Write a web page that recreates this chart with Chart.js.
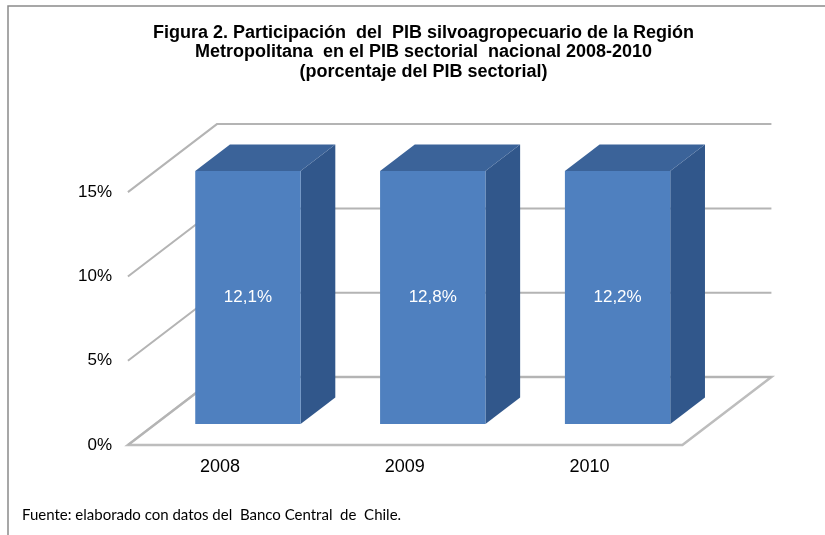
<!DOCTYPE html>
<html>
<head>
<meta charset="utf-8">
<script src="https://cdn.jsdelivr.net/npm/chart.js@4.4.0/dist/chart.umd.min.js"></script>
<style>
  html, body { margin: 0; padding: 0; background: #fff; }
</style>
</head>
<body>
<canvas id="dataChart" width="825" height="535"></canvas>
<script>
const years = ['2008', '2009', '2010'];
// height of the bars as they are drawn in the figure (all reach the 15% line)
const barHeights = [15, 15, 15];
// values printed on the bars
const shareLabels = ['12,1%', '12,8%', '12,2%'];
const yTicks = [0, 5, 10, 15];

const titleLines = [
  'Figura 2. Participación  del  PIB silvoagropecuario de la Región',
  'Metropolitana  en el PIB sectorial  nacional 2008-2010',
  '(porcentaje del PIB sectorial)'
];
const sourceNote = 'Fuente: elaborado con datos del  Banco Central  de  Chile.';

// fake 3d: floor goes this far from front edge to back wall
const depth = { dx: 89, dy: -68 };
const frontShift = 0.31;   // bars stand this far behind the front edge
const barDepth = 0.39;     // depth of each bar

const arial = "'Liberation Sans', Arial, sans-serif";

const box3d = {
  id: 'box3d',
  beforeDraw(chart) {
    // frame of the figure
    const ctx = chart.ctx;
    ctx.save();
    ctx.strokeStyle = '#8a8a8a';
    ctx.lineWidth = 1.5;
    ctx.beginPath();
    ctx.moveTo(8, 535);
    ctx.lineTo(8, 6);
    ctx.lineTo(825, 6);
    ctx.stroke();
    ctx.restore();
  },
  beforeDatasetsDraw(chart) {
    const { ctx, chartArea: a, scales: { y } } = chart;
    const fx = -depth.dx * frontShift, fy = -depth.dy * frontShift;
    const bx = depth.dx * (1 - frontShift), by = depth.dy * (1 - frontShift);
    ctx.save();

    // floor
    const y0 = y.getPixelForValue(0);
    ctx.beginPath();
    ctx.moveTo(a.left + fx, y0 + fy);
    ctx.lineTo(a.right + fx, y0 + fy);
    ctx.lineTo(a.right + bx, y0 + by);
    ctx.lineTo(a.left + bx, y0 + by);
    ctx.closePath();
    ctx.fillStyle = '#ffffff';
    ctx.fill();
    ctx.strokeStyle = '#bdbdbd';
    ctx.lineWidth = 2.5;
    ctx.stroke();

    // side wall + back wall gridlines
    ctx.strokeStyle = '#b4b4b4';
    ctx.lineWidth = 2;
    yTicks.forEach(v => {
      const py = y.getPixelForValue(v);
      ctx.beginPath();
      ctx.moveTo(a.left + fx, py + fy);
      ctx.lineTo(a.left + bx, py + by);
      ctx.lineTo(a.right + bx, py + by);
      ctx.stroke();
    });

    // sides and tops of the bars
    const ox = depth.dx * barDepth, oy = depth.dy * barDepth;
    chart.getDatasetMeta(0).data.forEach(bar => {
      const { x, y: top, base, width } = bar.getProps(['x', 'y', 'base', 'width'], true);
      const l = x - width / 2, r = x + width / 2;
      ctx.fillStyle = '#31578b';
      ctx.beginPath();
      ctx.moveTo(r, top);
      ctx.lineTo(r, base);
      ctx.lineTo(r + ox, base + oy);
      ctx.lineTo(r + ox, top + oy);
      ctx.closePath();
      ctx.fill();
      ctx.fillStyle = '#3b6399';
      ctx.beginPath();
      ctx.moveTo(l, top);
      ctx.lineTo(r, top);
      ctx.lineTo(r + ox, top + oy);
      ctx.lineTo(l + ox, top + oy);
      ctx.closePath();
      ctx.fill();
    });
    ctx.restore();
  },
  afterDatasetsDraw(chart) {
    const ctx = chart.ctx;
    ctx.save();
    ctx.fillStyle = '#ffffff';
    ctx.font = '17px ' + arial;
    ctx.textAlign = 'center';
    ctx.textBaseline = 'middle';
    chart.getDatasetMeta(0).data.forEach((bar, i) => {
      const { x, y: top, base } = bar.getProps(['x', 'y', 'base'], true);
      ctx.fillText(shareLabels[i], x, (top + base) / 2);
    });
    ctx.restore();
  }
};

new Chart(document.getElementById('dataChart'), {
  type: 'bar',
  data: {
    labels: years,
    datasets: [{
      label: 'Participación',
      data: barHeights,
      backgroundColor: '#4f80bf',
      borderWidth: 0,
      categoryPercentage: 1,
      barPercentage: 0.57
    }]
  },
  options: {
    responsive: false,
    animation: false,
    layout: { padding: { left: 22, right: 0, top: 0, bottom: 0 } },
    plugins: {
      legend: { display: false },
      tooltip: { enabled: false },
      title: {
        display: true,
        text: titleLines,
        color: '#000',
        font: { family: arial, size: 18, weight: 'bold', lineHeight: 1.08 },
        padding: { top: 23.3, bottom: 89.4 }
      },
      subtitle: {
        display: true,
        position: 'bottom',
        align: 'start',
        text: sourceNote,
        color: '#000',
        font: { family: "Lato, 'Open Sans', sans-serif", size: 15, lineHeight: 1.2 },
        padding: { top: 0, bottom: 11 }
      }
    },
    scales: {
      x: {
        grid: { display: false },
        border: { display: false },
        ticks: { color: '#000', font: { family: arial, size: 18 }, labelOffset: -28, padding: 24 },
        afterFit: s => { s.height = 82; }
      },
      y: {
        min: 0,
        max: 15,
        grid: { display: false },
        border: { display: false },
        ticks: {
          stepSize: 5,
          color: '#000',
          font: { family: arial, size: 17 },
          padding: 35.5,
          labelOffset: 21,
          callback: v => v + '%'
        },
        afterFit: s => { s.width = 133.5; }
      },
      // empty space on the right, where the back wall sticks out
      spacer: {
        type: 'linear',
        position: 'right',
        display: true,
        grid: { display: false },
        border: { display: false },
        ticks: { display: false },
        afterFit: s => { s.width = 115; }
      }
    }
  },
  plugins: [box3d]
});
</script>
</body>
</html>
